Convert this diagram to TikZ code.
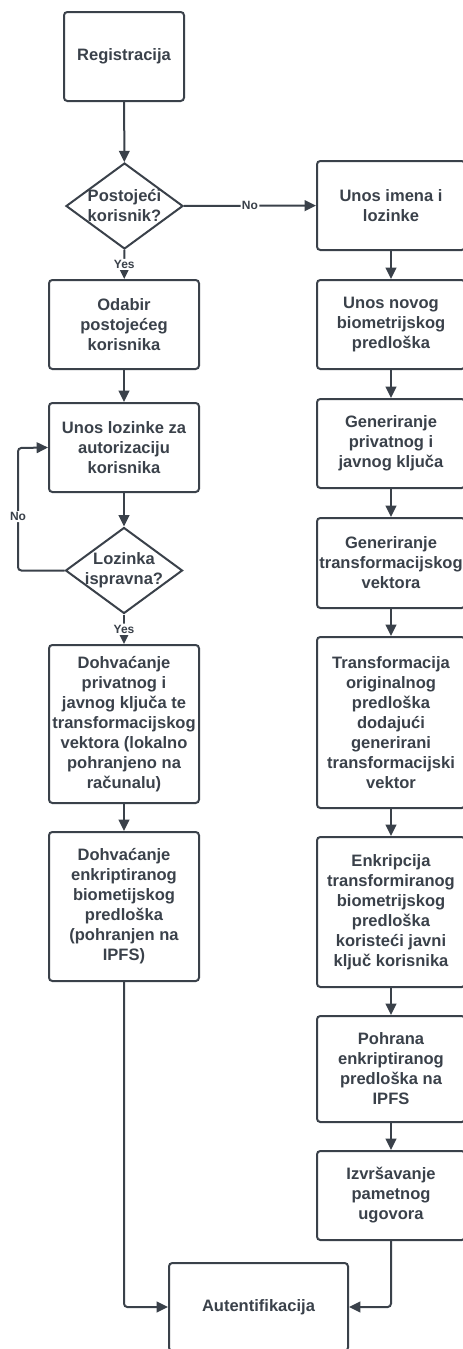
\documentclass[tikz,border=0pt]{standalone}
\usepackage{fontspec}
\setmainfont{Liberation Sans}
\usepackage{xcolor}
\usetikzlibrary{arrows.meta,positioning,shapes.geometric,calc}
\definecolor{ink}{HTML}{3A414A}

\begin{document}
\begin{tikzpicture}[x=0.75pt, y=-0.75pt,
  box/.style={draw=ink, line width=1.5pt, rounded corners=2.5pt, align=center, minimum width=112.5pt, minimum height=66.75pt, inner sep=0pt, text=ink, font=\bfseries\fontsize{12.4}{15}\selectfont},
  rbox/.style={box, minimum width=111pt},
  dec/.style={draw=ink, line width=1.5pt, diamond, minimum width=87.75pt, minimum height=64.5pt, inner sep=0pt},
  dectext/.style={text=ink, align=center, font=\bfseries\fontsize{12.4}{15}\selectfont},
  arr/.style={-{Triangle[length=8.5pt, width=8pt]}, line width=1.5pt, draw=ink, rounded corners=2.5pt},
  lbl/.style={fill=white, text=ink, inner sep=1pt, font=\bfseries\fontsize{9}{10}\selectfont}
]
\useasboundingbox (0,0) rectangle (463,1349);
\clip (0,0) rectangle (463,1349);

% Start
\node[box, minimum width=90pt] (reg) at (124,56.5) {Registracija};
\node[dec, label={[dectext]center:{Postojeći\\korisnik?}}] (postoji) at (124.5,206) {};
\draw[arr] (reg) -- (postoji);

% Left branch: existing user
\node[box] (odabir) at (124,324.5) {Odabir\\postojećeg\\korisnika};
\node[box] (lozinka) at (124,447.5) {Unos lozinke za\\autorizaciju\\korisnika};
\node[dec, label={[dectext]center:{Lozinka\\ispravna?}}] (ispravna) at (124,570.5) {};
\node[box, minimum height=118.5pt] (dohvkljuc) at (124,724) {Dohvaćanje\\privatnog i\\javnog ključa te\\transformacijskog\\vektora (lokalno\\pohranjeno na\\računalu)};
\node[box, minimum height=111.75pt] (dohvpredl) at (124,906.5) {Dohvaćanje\\enkriptiranog\\biometijskog\\predloška\\(pohranjen na\\IPFS)};

\draw[arr] (postoji) -- (odabir) node[lbl, midway] {Yes};
\draw[arr] (odabir) -- (lozinka);
\draw[arr] (lozinka) -- (ispravna);
\coordinate (petlja) at (18,448);
\draw[arr] (ispravna.west) -| (petlja) node[lbl, pos=0.72] {No} -- (lozinka.west);
\draw[arr] (ispravna) -- (dohvkljuc) node[lbl, midway] {Yes};
\draw[arr] (dohvkljuc) -- (dohvpredl);

% Right branch: new user
\node[rbox] (imena) at (391,205.5) {Unos imena i\\lozinke};
\node[rbox] (novog) at (391,324.5) {Unos novog\\biometrijskog\\predloška};
\node[rbox] (kljucevi) at (391,443.5) {Generiranje\\privatnog i\\javnog ključa};
\node[rbox, minimum height=67.5pt] (vektor) at (391,563) {Generiranje\\transformacijskog\\vektora};
\node[rbox, minimum height=128.25pt] (transf) at (391,722.5) {Transformacija\\originalnog\\predloška\\dodajući\\generirani\\transformacijski\\vektor};
\node[rbox, minimum height=112.5pt] (enkr) at (391,912) {Enkripcija\\transformiranog\\biometrijskog\\predloška\\koristeći javni\\ključ korisnika};
\node[rbox, minimum height=79.5pt] (pohrana) at (391,1069) {Pohrana\\enkriptiranog\\predloška na\\IPFS};
\node[rbox] (ugovor) at (391,1195.5) {Izvršavanje\\pametnog\\ugovora};

\draw[arr] (postoji) -- (imena) node[lbl, midway] {No};
\draw[arr] (imena) -- (novog);
\draw[arr] (novog) -- (kljucevi);
\draw[arr] (kljucevi) -- (vektor);
\draw[arr] (vektor) -- (transf);
\draw[arr] (transf) -- (enkr);
\draw[arr] (enkr) -- (pohrana);
\draw[arr] (pohrana) -- (ugovor);

% End
\node[box, minimum width=134.25pt, minimum height=66pt] (autent) at (258.5,1307) {Autentifikacija};
\draw[arr] (dohvpredl.south) |- (autent.west);
\draw[arr] (ugovor.south) |- (autent.east);

\end{tikzpicture}
\end{document}
